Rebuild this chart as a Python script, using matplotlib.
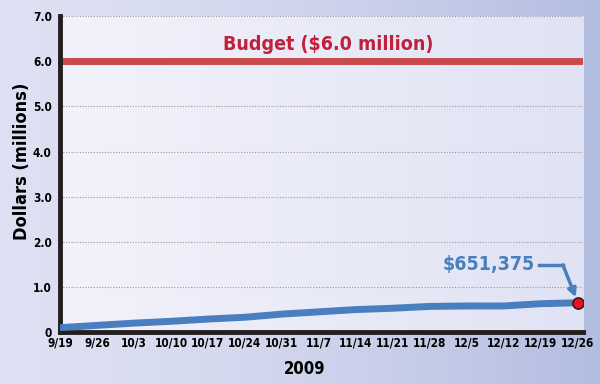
import numpy as np
import matplotlib
matplotlib.use("Agg")
import matplotlib.pyplot as plt

# weekly dates (2009) and cumulative spending in millions of dollars
weeks = ["9/19", "9/26", "10/3", "10/10", "10/17", "10/24", "10/31", "11/7",
         "11/14", "11/21", "11/28", "12/5", "12/12", "12/19", "12/26"]
spent = [0.10, 0.15, 0.20, 0.24, 0.29, 0.33, 0.40, 0.45,
         0.50, 0.53, 0.57, 0.58, 0.58, 0.63, 0.651375]
budget = 6.0
yticks = [0, 1, 2, 3, 4, 5, 6, 7]
ytick_labels = ["0", "1.0", "2.0", "3.0", "4.0", "5.0", "6.0", "7.0"]

plt.rcParams["font.family"] = ["DejaVu Sans"]
plt.rcParams["font.stretch"] = "condensed"

fig = plt.figure(figsize=(6, 3.84), dpi=100)

# background gradient for the figure
bg = fig.add_axes([0, 0, 1, 1], zorder=-10)
grad = np.linspace(0, 1, 256).reshape(1, -1) ** 1.6
c0 = np.array([0.87, 0.88, 0.95])
c1 = np.array([0.70, 0.74, 0.88])
img = c0[None, None, :] * (1 - grad[..., None]) + c1[None, None, :] * grad[..., None]
bg.imshow(img, aspect="auto", extent=[0, 1, 0, 1])
bg.axis("off")

ax = fig.add_axes([0.1, 0.135, 0.872, 0.823])
x = np.arange(len(weeks))

ax.set_xlim(0, 14.15)
ax.set_ylim(0, 7)

# lighter gradient inside the plot area
g2 = np.linspace(0, 1, 256).reshape(1, -1)
a0 = np.array([0.95, 0.95, 0.985])
a1 = np.array([0.88, 0.89, 0.955])
img2 = a0[None, None, :] * (1 - g2[..., None]) + a1[None, None, :] * g2[..., None]
ax.imshow(img2, aspect="auto", extent=[0, 14.15, 0, 7], zorder=0)

for y in yticks[1:]:
    ax.axhline(y, color="#999999", lw=0.8, ls=(0, (1, 1.5)), zorder=1)

ax.axhline(budget, color="#c84a4c", lw=5, zorder=2)
ax.text(7.25, 6.38, "Budget ($6.0 million)", color="#c0203a", fontsize=14,
        fontweight="bold", ha="center", va="center")

ax.plot(x, spent, color="#4a7fbf", lw=5, solid_capstyle="butt", zorder=3)
ax.plot(x[-1], spent[-1], "o", ms=8, mfc="#e8141c", mec="#3a1a1a", mew=1.2, zorder=5)

ax.text(12.85, 1.49, "$651,375", color="#4a7fbf", fontsize=14, fontweight="bold",
        ha="right", va="center")
ax.plot([12.95, 13.6], [1.49, 1.49], color="#4a7fbf", lw=2.5, zorder=4)
ax.annotate("", xy=(x[-1] - 0.05, spent[-1] + 0.12), xytext=(13.6, 1.49),
            arrowprops=dict(arrowstyle="-|>", color="#4a7fbf", lw=2.5,
                            mutation_scale=12, shrinkA=0, shrinkB=0), zorder=4)

ax.set_xticks(x)
ax.set_xticklabels(weeks, fontsize=8.5, fontweight="bold")
ax.set_yticks(yticks)
ax.set_yticklabels(ytick_labels, fontsize=8.5, fontweight="bold")
ax.tick_params(length=0, pad=3)
ax.tick_params(axis="y", pad=6)

for side in ["top", "right"]:
    ax.spines[side].set_visible(False)
ax.spines["left"].set_linewidth(3.5)
ax.spines["bottom"].set_linewidth(3.5)
ax.spines["left"].set_color("#231f20")
ax.spines["bottom"].set_color("#231f20")

ax.set_xlabel("2009", fontsize=12, fontweight="bold")
ax.set_ylabel("Dollars (millions)", fontsize=13, fontweight="bold")
ax.xaxis.set_label_coords(0.468, -0.088)
ax.yaxis.set_label_coords(-0.056, 0.54)

fig.savefig("out.png", dpi=100)
